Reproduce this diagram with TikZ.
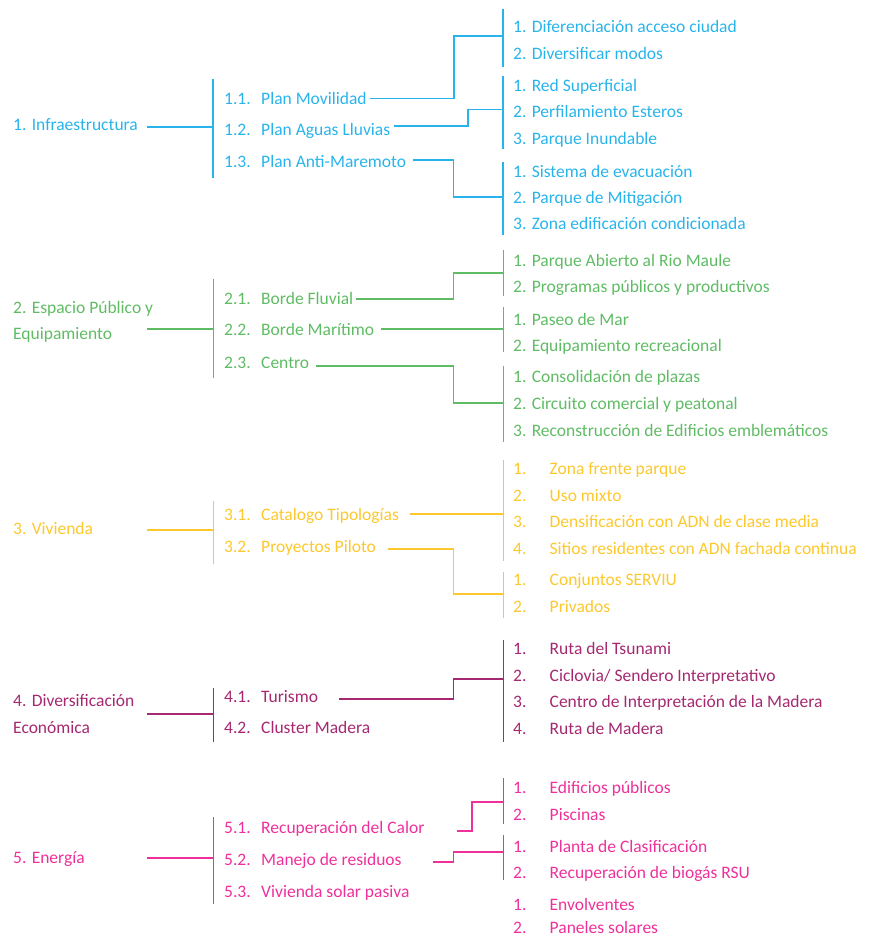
\documentclass[tikz,border=0pt]{standalone}
\usepackage{fontspec}
\setmainfont{Carlito}
\definecolor{cyanA}{RGB}{40,180,235}
\definecolor{greenA}{RGB}{95,188,100}
\definecolor{yellowA}{RGB}{253,200,45}
\definecolor{purpleA}{RGB}{165,40,112}
\definecolor{pinkA}{RGB}{238,48,155}
\begin{document}
\begin{tikzpicture}[x=1pt,y=-1pt,
  txt/.style={anchor=base west, inner sep=0pt, font=\fontsize{17.5}{20}\selectfont},
  ln/.style={line width=1.5pt, line cap=butt},
]
\useasboundingbox (0,0) rectangle (875,938);

% ===== Section 1 =====
\begin{scope}[color=cyanA]
\node[txt] (s1) at (13,130) {1. Infraestructura};
\coordinate (s1c) at (147,127);
\coordinate (b1t) at (213,79); \coordinate (b1b) at (213,178);
\draw[ln] (b1t) -- (b1b);
\draw[ln] (s1c) -- (s1c -| b1t);
\node[txt] (n11) at (224,104) {1.1.}; \node[txt] (m11) at (261,104) {Plan Movilidad};
\node[txt] (n12) at (224,135) {1.2.}; \node[txt] (m12) at (261,135) {Plan Aguas Lluvias};
\node[txt] (n13) at (224,167) {1.3.}; \node[txt] (m13) at (261,167) {Plan Anti-Maremoto};
% bars
\coordinate (c11t) at (503,9);   \coordinate (c11b) at (503,67);
\coordinate (c12t) at (503,76);  \coordinate (c12b) at (503,149);
\coordinate (c13t) at (503,162); \coordinate (c13b) at (503,235);
\draw[ln] (c11t) -- (c11b);
\draw[ln] (c12t) -- (c12b);
\draw[ln] (c13t) -- (c13b);
% connectors
\coordinate (p11) at (370,98.5);  \coordinate (k11) at (454,36);
\coordinate (p12) at (394,126);   \coordinate (k12) at (468,109.5);
\coordinate (p13) at (413,160);   \coordinate (k13) at (453.5,197);
\draw[ln] (p11) -| (k11) -- (k11 -| c11t);
\draw[ln] (p12) -| (k12) -- (k12 -| c12t);
\draw[ln] (p13) -| (k13) -- (k13 -| c13t);
% items
\node[txt] (i111) at (513,32)  {1. Diferenciación acceso ciudad};
\node[txt] (i112) at (513,59)  {2. Diversificar modos};
\node[txt] (i121) at (513,91)  {1. Red Superficial};
\node[txt] (i122) at (513,117) {2. Perfilamiento Esteros};
\node[txt] (i123) at (513,144) {3. Parque Inundable};
\node[txt] (i131) at (513,177) {1. Sistema de evacuación};
\node[txt] (i132) at (513,203) {2. Parque de Mitigación};
\node[txt] (i133) at (513,229) {3. Zona edificación condicionada};
\end{scope}

% ===== Section 2 =====
\begin{scope}[color=greenA]
\node[txt] (s2a) at (13,313) {2. Espacio Público y};
\node[txt] (s2b) at (13,339) {Equipamiento};
\coordinate (s2c) at (147,329);
\coordinate (b2t) at (213.5,279); \coordinate (b2b) at (213.5,378);
\draw[ln] (b2t) -- (b2b);
\draw[ln] (s2c) -- (s2c -| b2t);
\node[txt] (n21) at (224,304)   {2.1.}; \node[txt] (m21) at (261,304)   {Borde Fluvial};
\node[txt] (n22) at (224,335.5) {2.2.}; \node[txt] (m22) at (261,335.5) {Borde Marítimo};
\node[txt] (n23) at (224,368.5) {2.3.}; \node[txt] (m23) at (261,368.5) {Centro};
\coordinate (c21t) at (503.5,250);   \coordinate (c21b) at (503.5,296);
\coordinate (c22t) at (503.5,306.7); \coordinate (c22b) at (503.5,352);
\coordinate (c23t) at (503.5,365.7); \coordinate (c23b) at (503.5,442);
\draw[ln] (c21t) -- (c21b);
\draw[ln] (c22t) -- (c22b);
\draw[ln] (c23t) -- (c23b);
\coordinate (p21) at (355.5,299); \coordinate (k21) at (453.7,273);
\coordinate (p22) at (381,329);
\coordinate (p23) at (316.4,366); \coordinate (k23) at (453.7,403);
\draw[ln] (p21) -| (k21) -- (k21 -| c21t);
\draw[ln] (p22) -- (p22 -| c22t);
\draw[ln] (p23) -| (k23) -- (k23 -| c23t);
\node[txt] (i211) at (513,266)   {1. Parque Abierto al Rio Maule};
\node[txt] (i212) at (513,292.7) {2. Programas públicos y productivos};
\node[txt] (i221) at (513,325)   {1. Paseo de Mar};
\node[txt] (i222) at (513,351)   {2. Equipamiento recreacional};
\node[txt] (i231) at (513,382.5) {1. Consolidación de plazas};
\node[txt] (i232) at (513,409)   {2. Circuito comercial y peatonal};
\node[txt] (i233) at (513,436.5) {3. Reconstrucción de Edificios emblemáticos};
\end{scope}

% ===== Section 3 =====
\begin{scope}[color=yellowA]
\node[txt] (s3) at (13,534) {3. Vivienda};
\coordinate (s3c) at (147,530);
\coordinate (b3t) at (213.5,500.7); \coordinate (b3b) at (213.5,564);
\draw[ln] (b3t) -- (b3b);
\draw[ln] (s3c) -- (s3c -| b3t);
\node[txt] (n31) at (224,520.5) {3.1.}; \node[txt] (m31) at (261,520.5) {Catalogo Tipologías};
\node[txt] (n32) at (224,552.5) {3.2.}; \node[txt] (m32) at (261,552.5) {Proyectos Piloto};
\coordinate (c31t) at (503.5,460);   \coordinate (c31b) at (503.5,561);
\coordinate (c32t) at (503.5,571.7); \coordinate (c32b) at (503.5,617.7);
\draw[ln] (c31t) -- (c31b);
\draw[ln] (c32t) -- (c32b);
\coordinate (p31) at (410,514);
\coordinate (p32) at (388,549); \coordinate (k32) at (453.7,594);
\draw[ln] (p31) -- (p31 -| c31t);
\draw[ln] (p32) -| (k32) -- (k32 -| c32t);
\node[txt] (j311) at (513,474) {1.}; \node[txt] (i311) at (549.5,474) {Zona frente parque};
\node[txt] (j312) at (513,501) {2.}; \node[txt] (i312) at (549.5,501) {Uso mixto};
\node[txt] (j313) at (513,527) {3.}; \node[txt] (i313) at (549.5,527) {Densificación con ADN de clase media};
\node[txt] (j314) at (513,554) {4.}; \node[txt] (i314) at (549.5,554) {Sitios residentes con ADN fachada continua};
\node[txt] (j321) at (513,585.5) {1.}; \node[txt] (i321) at (549.5,585.5) {Conjuntos SERVIU};
\node[txt] (j322) at (513,612.5) {2.}; \node[txt] (i322) at (549.5,612.5) {Privados};
\end{scope}

% ===== Section 4 =====
\begin{scope}[color=purpleA]
\node[txt] (s4a) at (13,706) {4. Diversificación};
\node[txt] (s4b) at (13,733) {Económica};
\coordinate (s4c) at (147,714);
\coordinate (b4t) at (213.5,687.7); \coordinate (b4b) at (213.5,741.7);
\draw[ln] (b4t) -- (b4b);
\draw[ln] (s4c) -- (s4c -| b4t);
\node[txt] (n41) at (224,702) {4.1.}; \node[txt] (m41) at (261,702) {Turismo};
\node[txt] (n42) at (224,733) {4.2.}; \node[txt] (m42) at (261,733) {Cluster Madera};
\coordinate (c41t) at (503.5,640); \coordinate (c41b) at (503.5,741.7);
\draw[ln] (c41t) -- (c41b);
\coordinate (p41) at (338.7,699); \coordinate (k41) at (453.7,679);
\draw[ln] (p41) -| (k41) -- (k41 -| c41t);
\node[txt] (j411) at (513,654.5) {1.}; \node[txt] (i411) at (549.5,654.5) {Ruta del Tsunami};
\node[txt] (j412) at (513,681.5) {2.}; \node[txt] (i412) at (549.5,681.5) {Ciclovia/ Sendero Interpretativo};
\node[txt] (j413) at (513,707.5) {3.}; \node[txt] (i413) at (549.5,707.5) {Centro de Interpretación de la Madera};
\node[txt] (j414) at (513,734)   {4.}; \node[txt] (i414) at (549.5,734)   {Ruta de Madera};
\end{scope}

% ===== Section 5 =====
\begin{scope}[color=pinkA]
\node[txt] (s5) at (13,863) {5. Energía};
\coordinate (s5c) at (147,858);
\coordinate (b5t) at (213.5,817); \coordinate (b5b) at (213.5,904.3);
\draw[ln] (b5t) -- (b5b);
\draw[ln] (s5c) -- (s5c -| b5t);
\node[txt] (n51) at (224,833.5) {5.1.}; \node[txt] (m51) at (261,833.5) {Recuperación del Calor};
\node[txt] (n52) at (224,865.5) {5.2.}; \node[txt] (m52) at (261,865.5) {Manejo de residuos};
\node[txt] (n53) at (224,897)   {5.3.}; \node[txt] (m53) at (261,897)   {Vivienda solar pasiva};
\coordinate (c51t) at (503.5,778.3); \coordinate (c51b) at (503.5,824);
\coordinate (c52t) at (503.5,835);   \coordinate (c52b) at (503.5,880);
\draw[ln] (c51t) -- (c51b);
\draw[ln] (c52t) -- (c52b);
\coordinate (p51) at (456.5,831);   \coordinate (k51) at (472,802);
\coordinate (p52) at (432.5,862); \coordinate (k52) at (453.7,852);
\draw[ln] (p51) -| (k51) -- (k51 -| c51t);
\draw[ln] (p52) -| (k52) -- (k52 -| c52t);
\node[txt] (j511) at (513,793)   {1.}; \node[txt] (i511) at (549.5,793)   {Edificios públicos};
\node[txt] (j512) at (513,820)   {2.}; \node[txt] (i512) at (549.5,820)   {Piscinas};
\node[txt] (j521) at (513,852.5) {1.}; \node[txt] (i521) at (549.5,852.5) {Planta de Clasificación};
\node[txt] (j522) at (513,878.5) {2.}; \node[txt] (i522) at (549.5,878.5) {Recuperación de biogás RSU};
\node[txt] (j531) at (513,910.5) {1.}; \node[txt] (i531) at (549.5,910.5) {Envolventes};
\node[txt] (j532) at (513,933.5) {2.}; \node[txt] (i532) at (549.5,933.5) {Paneles solares};
\end{scope}
\end{tikzpicture}
\end{document}
